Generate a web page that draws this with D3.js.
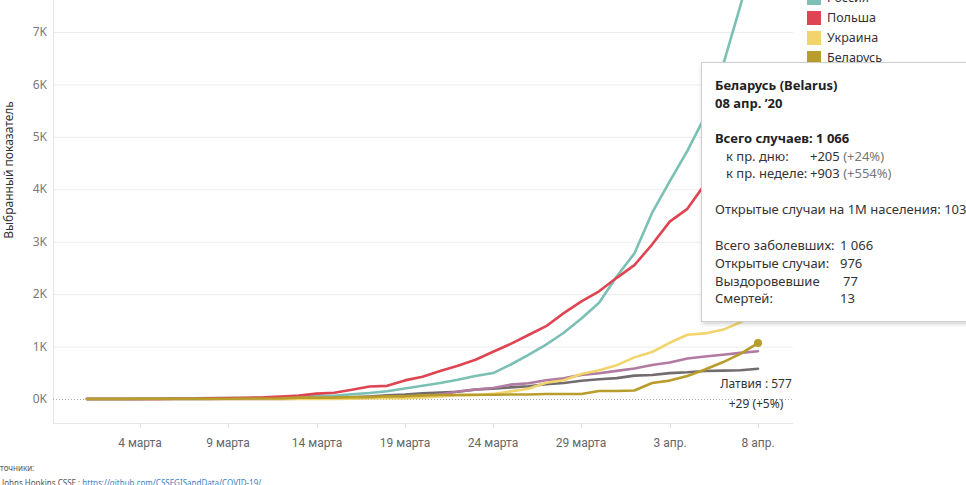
<!doctype html>
<html>
<head>
<meta charset="utf-8">
<script src="https://cdn.jsdelivr.net/npm/d3@7/dist/d3.min.js"></script>
<style>
  html, body { margin: 0; padding: 0; background: #fff; overflow: hidden; }
  svg { display: block; font-family: "Noto Sans", "Open Sans", sans-serif; }
  .grid line { stroke: #ececec; stroke-width: 1; }
  .ytick text { fill: #7a7a7a; font-size: 12px; }
  .xtick text { fill: #666; font-size: 12px; font-family: "Liberation Sans Narrow", "Roboto", sans-serif; }
  .line { fill: none; stroke-width: 2.6; stroke-linejoin: round; stroke-linecap: round; }
  .tip text { font-size: 13px; fill: #333; }
  .tip .b { font-weight: bold; fill: #222; }
  .tip .g { fill: #777; }
</style>
</head>
<body>
<svg id="chart" width="966" height="485"></svg>
<script>
  // dates: 1 March .. 8 April 2020
  var startDate = new Date(2020, 2, 1);
  var dayCount = 39;

  // cumulative confirmed cases per day
  var russia = [3, 3, 3, 3, 4, 13, 13, 17, 17, 20, 20, 28, 45, 59, 63, 90, 114, 147, 199, 253,
    306, 367, 438, 495, 658, 840, 1036, 1264, 1534, 1836, 2337, 2777, 3548, 4149, 4731, 5389, 6343, 7497, 8672];
  var poland = [0, 0, 0, 1, 1, 5, 5, 11, 16, 22, 31, 49, 68, 103, 119, 177, 238, 251, 355, 425,
    536, 634, 749, 901, 1051, 1221, 1389, 1638, 1862, 2055, 2311, 2554, 2946, 3383, 3627, 4102, 4413, 4848, 5205];
  var ukraine = [0, 0, 1, 1, 1, 1, 1, 1, 1, 1, 1, 1, 3, 3, 3, 7, 14, 14, 16, 29,
    47, 73, 73, 97, 145, 196, 310, 356, 475, 548, 645, 794, 897, 1072, 1225, 1251, 1319, 1462, 1668];
  var belarus = [1, 1, 1, 6, 6, 6, 6, 6, 6, 9, 9, 12, 27, 27, 27, 36, 36, 51, 51, 69,
    76, 76, 81, 81, 86, 86, 94, 94, 94, 152, 152, 163, 304, 351, 440, 562, 700, 861, 1066];
  var lithuania = [1, 1, 1, 1, 1, 1, 1, 1, 1, 2, 3, 3, 6, 8, 12, 17, 25, 27, 36, 49,
    83, 143, 179, 209, 274, 299, 358, 394, 460, 491, 537, 581, 649, 696, 771, 811, 843, 880, 912];
  var latvia = [0, 1, 1, 1, 1, 1, 1, 2, 6, 8, 10, 16, 17, 26, 30, 34, 49, 71, 86, 111,
    124, 139, 180, 197, 221, 244, 280, 305, 347, 376, 398, 446, 458, 493, 509, 533, 542, 548, 577];

  // only the legend entries not hidden by the tooltip
  var legendNames = ['Россия', 'Польша', 'Украина', 'Беларусь'];
  var legendColors = ['#7bc0b4', '#de4451', '#f1d46c', '#b89c2c'];
  var lithuaniaColor = '#b07aa1', latviaColor = '#726c6e';

  var yTicks = [0, 1000, 2000, 3000, 4000, 5000, 6000, 7000];
  var xTickDates = [new Date(2020, 2, 4), new Date(2020, 2, 9), new Date(2020, 2, 14), new Date(2020, 2, 19),
    new Date(2020, 2, 24), new Date(2020, 2, 29), new Date(2020, 3, 3), new Date(2020, 3, 8)];
  var xTickLabels = ['4 марта', '9 марта', '14 марта', '19 марта', '24 марта', '29 марта', '3 апр.', '8 апр.'];

  var dates = d3.range(dayCount).map(function (i) { return d3.timeDay.offset(startDate, i); });

  // drawing order: the selected country (Беларусь) on top
  var series = [
    { name: 'Латвия', values: latvia, color: latviaColor },
    { name: 'Литва', values: lithuania, color: lithuaniaColor },
    { name: 'Украина', values: ukraine, color: legendColors[2] },
    { name: 'Россия', values: russia, color: legendColors[0] },
    { name: 'Польша', values: poland, color: legendColors[1] },
    { name: 'Беларусь', values: belarus, color: legendColors[3] }
  ];

  var plotLeft = 53, plotRight = 793, plotBottom = 423;

  var x = d3.scaleTime()
    .domain([startDate, dates[dates.length - 1]])
    .range([87, 758]);
  var y = d3.scaleLinear()
    .domain([0, 7000])
    .range([399, 32]);

  var svg = d3.select('#chart');

  // gridlines
  svg.append('g').attr('class', 'grid')
    .selectAll('line')
    .data(yTicks.slice(1))
    .enter().append('line')
    .attr('x1', plotLeft).attr('x2', plotRight)
    .attr('y1', function (d) { return y(d) + 0.5; })
    .attr('y2', function (d) { return y(d) + 0.5; });

  // axis frame
  svg.append('line')
    .attr('x1', plotLeft + 0.5).attr('x2', plotLeft + 0.5)
    .attr('y1', 0).attr('y2', plotBottom)
    .attr('stroke', '#e6e6e6');
  svg.append('line')
    .attr('x1', plotLeft).attr('x2', plotRight)
    .attr('y1', plotBottom + 0.5).attr('y2', plotBottom + 0.5)
    .attr('stroke', '#e6e6e6');

  // zero line (dotted)
  svg.append('line')
    .attr('x1', plotLeft).attr('x2', plotRight)
    .attr('y1', y(0) + 0.5).attr('y2', y(0) + 0.5)
    .attr('stroke', '#aaa')
    .attr('stroke-dasharray', '1,2');

  // y tick labels
  svg.append('g').attr('class', 'ytick')
    .selectAll('text')
    .data(yTicks)
    .enter().append('text')
    .attr('x', 47)
    .attr('y', function (d) { return y(d); })
    .attr('dy', '0.35em')
    .attr('text-anchor', 'end')
    .text(function (d) { return d3.format('d')(d / 1000) + 'K'; });

  // x ticks + labels
  var xt = svg.append('g').attr('class', 'xtick')
    .selectAll('g')
    .data(xTickDates)
    .enter().append('g')
    .attr('transform', function (d) { return 'translate(' + Math.round(x(d)) + ',0)'; });
  xt.append('line')
    .attr('x1', 0.5).attr('x2', 0.5)
    .attr('y1', plotBottom).attr('y2', plotBottom + 5)
    .attr('stroke', '#e0e0e0');
  xt.append('text')
    .attr('y', 443)
    .attr('dy', '0.35em')
    .attr('text-anchor', 'middle')
    .text(function (d, i) { return xTickLabels[i]; });

  // y axis title
  svg.append('text')
    .attr('transform', 'translate(13,170) rotate(-90)')
    .attr('text-anchor', 'middle')
    .attr('font-size', 12)
    .attr('fill', '#333')
    .text('Выбранный показатель');

  // lines
  var line = d3.line()
    .x(function (d, i) { return x(dates[i]); })
    .y(function (d) { return y(d); });

  svg.append('g')
    .selectAll('path')
    .data(series)
    .enter().append('path')
    .attr('class', 'line')
    .attr('stroke', function (d) { return d.color; })
    .attr('stroke-width', function (d) { return d.name === 'Беларусь' ? 2.9 : null; })
    .attr('d', function (d) { return line(d.values); });

  // selected point
  var last = dayCount - 1;
  svg.append('circle')
    .attr('cx', x(dates[last]))
    .attr('cy', y(belarus[last]))
    .attr('r', 4)
    .attr('fill', legendColors[3]);

  // label at the end of Латвия
  var lvDiff = latvia[last] - latvia[last - 1];
  var lbl = svg.append('text')
    .attr('text-anchor', 'middle')
    .attr('font-size', 12)
    .attr('fill', '#333');
  lbl.append('tspan').attr('x', 756).attr('y', 388)
    .text('Латвия : ' + latvia[last]);
  lbl.append('tspan').attr('x', 756).attr('y', 408)
    .text('+' + lvDiff + ' (+' + Math.round(lvDiff / latvia[last - 1] * 100) + '%)');

  // legend
  var lg = svg.append('g')
    .selectAll('g')
    .data(legendNames)
    .enter().append('g')
    .attr('transform', function (d, i) { return 'translate(807,' + (-9 + i * 20) + ')'; });
  lg.append('rect')
    .attr('width', 14).attr('height', 14)
    .attr('fill', function (d, i) { return legendColors[i]; });
  lg.append('text')
    .attr('x', 20).attr('y', 7)
    .attr('dy', '0.35em')
    .attr('font-size', 12.5)
    .attr('fill', '#333')
    .text(function (d) { return d; });

  // tooltip
  var defs = svg.append('defs');
  var f = defs.append('filter').attr('id', 'shadow')
    .attr('x', '-10%').attr('y', '-10%').attr('width', '130%').attr('height', '130%');
  f.append('feDropShadow').attr('dx', 1).attr('dy', 2).attr('stdDeviation', 2)
    .attr('flood-color', '#000').attr('flood-opacity', 0.18);

  var tip = svg.append('g').attr('class', 'tip');
  tip.append('rect')
    .attr('x', 701.5).attr('y', 62.5)
    .attr('width', 300).attr('height', 259)
    .attr('fill', '#fff')
    .attr('stroke', '#cfcfcf')
    .attr('filter', 'url(#shadow)');

  function tipText(xp, yp, txt, cls) {
    return tip.append('text').attr('x', xp).attr('y', yp).attr('class', cls || null).text(txt);
  }
  tipText(715, 90, 'Беларусь (Belarus)', 'b');
  tipText(715, 108, '08 апр. \u201920', 'b');
  tipText(715, 143, 'Всего случаев: 1 066', 'b');
  tipText(726, 161, 'к пр. дню:');
  var t1 = tipText(810, 161, '+205 ');
  t1.append('tspan').attr('class', 'g').text('(+24%)');
  tipText(726, 178, 'к пр. неделе:');
  var t2 = tipText(810, 178, '+903 ');
  t2.append('tspan').attr('class', 'g').text('(+554%)');
  tipText(715, 214, 'Открытые случаи на 1М населения: 103');
  tipText(715, 250, 'Всего заболевших:');
  tipText(840, 250, '1 066');
  tipText(715, 268, 'Открытые случаи:');
  tipText(840, 268, '976');
  tipText(715, 286, 'Выздоровевшие');
  tipText(843, 286, '77');
  tipText(715, 303, 'Смертей:');
  tipText(840, 303, '13');

  // sources
  svg.append('text')
    .attr('x', -10).attr('y', 471)
    .attr('font-size', 8)
    .attr('fill', '#555')
    .text('Источники:');
  var src = svg.append('text')
    .attr('x', 2).attr('y', 486)
    .attr('font-size', 8)
    .attr('fill', '#555')
    .text('Johns Hopkins CSSE : ');
  src.append('tspan').attr('fill', '#3d7fc4').text('https://github.com/CSSEGISandData/COVID-19/');
</script>
</body>
</html>
